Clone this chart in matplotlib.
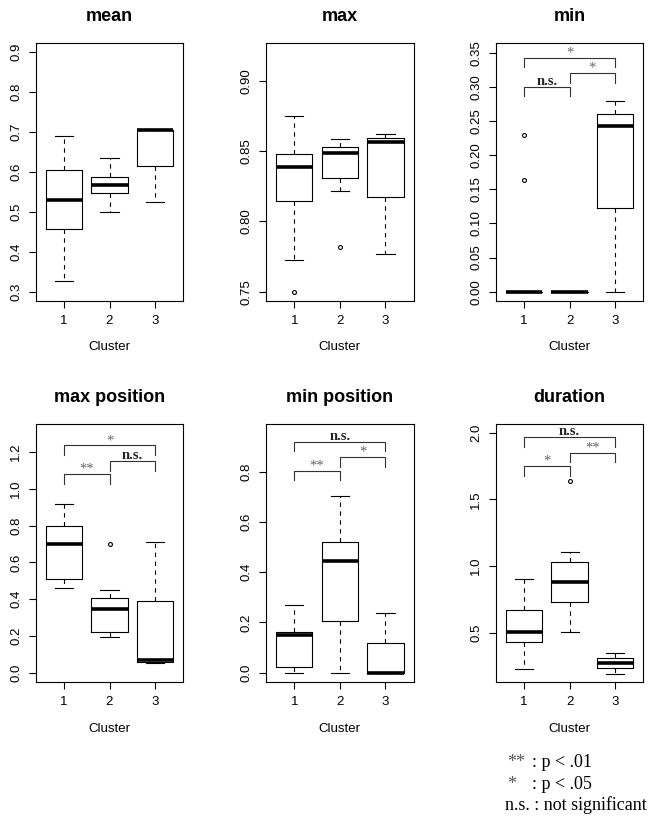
import matplotlib
matplotlib.use("Agg")
import matplotlib.pyplot as plt
import numpy as np

W, H = 654, 816
plt.rcParams['font.family'] = ['Liberation Sans', 'DejaVu Sans']

clusters = [1, 2, 3]

# box statistics per panel: (whislo, q1, med, q3, whishi, fliers)
mean_stats = [(0.327, 0.457, 0.530, 0.605, 0.689, []),
              (0.500, 0.548, 0.567, 0.588, 0.634, []),
              (0.526, 0.616, 0.704, 0.706, 0.706, [])]
max_stats = [(0.7727, 0.8148, 0.8387, 0.848, 0.8752, [0.750]),
             (0.8215, 0.8305, 0.8487, 0.8532, 0.8586, [0.7817]),
             (0.777, 0.817, 0.8565, 0.8596, 0.8624, [])]
min_stats = [(0.0, 0.0, 0.0, 0.0, 0.0, [0.2296, 0.1628]),
             (0.0, 0.0, 0.0, 0.0, 0.0, []),
             (0.0, 0.1219, 0.2428, 0.2603, 0.2798, [])]
maxpos_stats = [(0.4597, 0.5086, 0.6986, 0.800, 0.9195, []),
                (0.1937, 0.2226, 0.3457, 0.4036, 0.4489, [0.702]),
                (0.0525, 0.0597, 0.0688, 0.391, 0.7095, [])]
minpos_stats = [(0.0, 0.0239, 0.150, 0.1632, 0.268, []),
                (0.0, 0.207, 0.4458, 0.5214, 0.7045, []),
                (0.0, 0.0, 0.0, 0.118, 0.236, [])]
dur_stats = [(0.2245, 0.430, 0.5025, 0.670, 0.903, []),
             (0.5025, 0.730, 0.878, 1.028, 1.106, [1.637]),
             (0.192, 0.232, 0.2746, 0.3097, 0.347, [])]

titles = ["mean", "max", "min", "max position", "min position", "duration"]
ylims = [(0.277, 0.923), (0.7434, 0.9268), (-0.01365, 0.3641),
         (-0.0507, 1.3557), (-0.0371, 0.991), (0.1294, 2.070)]
yticks = [[0.3, 0.4, 0.5, 0.6, 0.7, 0.8, 0.9],
          [0.75, 0.80, 0.85, 0.90],
          [0.00, 0.05, 0.10, 0.15, 0.20, 0.25, 0.30, 0.35],
          [0.0, 0.2, 0.4, 0.6, 0.8, 1.0, 1.2],
          [0.0, 0.2, 0.4, 0.6, 0.8],
          [0.5, 1.0, 1.5, 2.0]]
yfmt = ["%.1f", "%.2f", "%.2f", "%.1f", "%.1f", "%.1f"]

# significance brackets: (label, from, to, height)
brackets = {
    2: [("n.s.", 1, 2, 0.300), ("*", 2, 3, 0.320), ("*", 1, 3, 0.3427)],
    3: [("**", 1, 2, 1.0787), ("n.s.", 2, 3, 1.151), ("*", 1, 3, 1.2362)],
    4: [("**", 1, 2, 0.8027), ("*", 2, 3, 0.857), ("n.s.", 1, 3, 0.919)],
    5: [("*", 1, 2, 1.750), ("**", 2, 3, 1.850), ("n.s.", 1, 3, 1.9676)],
}

all_stats = [mean_stats, max_stats, min_stats, maxpos_stats, minpos_stats, dur_stats]

cols = [(36, 183), (266, 413.7), (496, 643.3)]
rows = [(43, 301), (423.5, 682)]

fig = plt.figure(figsize=(W / 100, H / 100), dpi=100)

serif = ['Liberation Serif', 'DejaVu Serif']

for i, stats in enumerate(all_stats):
    r, c = divmod(i, 3)
    x0, x1 = cols[c]
    y0, y1 = rows[r]
    ax = fig.add_axes([x0 / W, 1 - y1 / H, (x1 - x0) / W, (y1 - y0) / H])
    bx = []
    for (lo, q1, med, q3, hi, fl) in stats:
        bx.append(dict(whislo=lo, q1=q1, med=med, q3=q3, whishi=hi, fliers=fl))
    ax.bxp(bx, positions=clusters, widths=0.8, capwidths=0.4,
           boxprops=dict(color='black', lw=0.8),
           medianprops=dict(color='black', lw=2.6, solid_capstyle='butt'),
           whiskerprops=dict(color='black', lw=0.8, linestyle=(0, (4, 4))),
           capprops=dict(color='black', lw=0.8),
           flierprops=dict(marker='o', markerfacecolor='none', markeredgecolor='black',
                           markersize=2.8, markeredgewidth=0.8))
    ax.set_xlim(0.38, 3.62)
    ax.set_ylim(*ylims[i])
    ax.set_xticks(clusters)
    ax.set_xticklabels([str(k) for k in clusters])
    ax.set_yticks(yticks[i])
    ax.set_yticklabels([yfmt[i] % v for v in yticks[i]])
    ax.tick_params(axis='both', direction='out', length=5, width=0.8, labelsize=9.5, pad=5,
                   colors='black')
    ax.tick_params(axis='y', labelrotation=90)
    for lab in ax.get_yticklabels():
        lab.set_verticalalignment('center')
    for sp in ax.spines.values():
        sp.set_linewidth(0.8)
    ax.set_title(titles[i], fontsize=13, fontweight='bold', pad=15.5)
    ax.set_xlabel("Cluster", fontsize=9.5)
    ax.xaxis.set_label_coords(0.5, -46.5 / (y1 - y0))
    ax.xaxis.label.set_verticalalignment('center')

    if i in brackets:
        lo_, hi_ = ylims[i]
        leg = 0.037 * (hi_ - lo_)
        for lab, a, b, h in brackets[i]:
            ax.plot([a, a, b, b], [h - leg, h, h, h - leg], color='#333333', lw=0.8)
            if lab == "n.s.":
                ax.annotate(lab, xy=((a + b) / 2, h), xytext=(0, 1.5), textcoords='offset points',
                            ha='center', va='baseline', fontsize=10.5, fontweight='bold',
                            family=serif, color='#222222')
            else:
                ax.annotate(lab, xy=((a + b) / 2, h), xytext=(0, 1.0), textcoords='offset points',
                            ha='center', va='baseline', fontsize=10.5,
                            family=serif, color='#666666')

# significance legend
leg_sym = ["**", "*"]
leg_txt = [": p < .01", ": p < .05"]
leg_y = [767, 789]
for s, t, yy in zip(leg_sym, leg_txt, leg_y):
    fig.text(507 / W, 1 - yy / H, s, ha='left', va='baseline', fontsize=13,
             family=serif, color='#555555')
    fig.text(532 / W, 1 - yy / H, t, ha='left', va='baseline', fontsize=13,
             family=serif, color='black')
fig.text(505 / W, 1 - 810 / H, "n.s. : not significant", ha='left', va='baseline',
         fontsize=13, family=serif, color='black')

fig.savefig("out.png", dpi=100)
